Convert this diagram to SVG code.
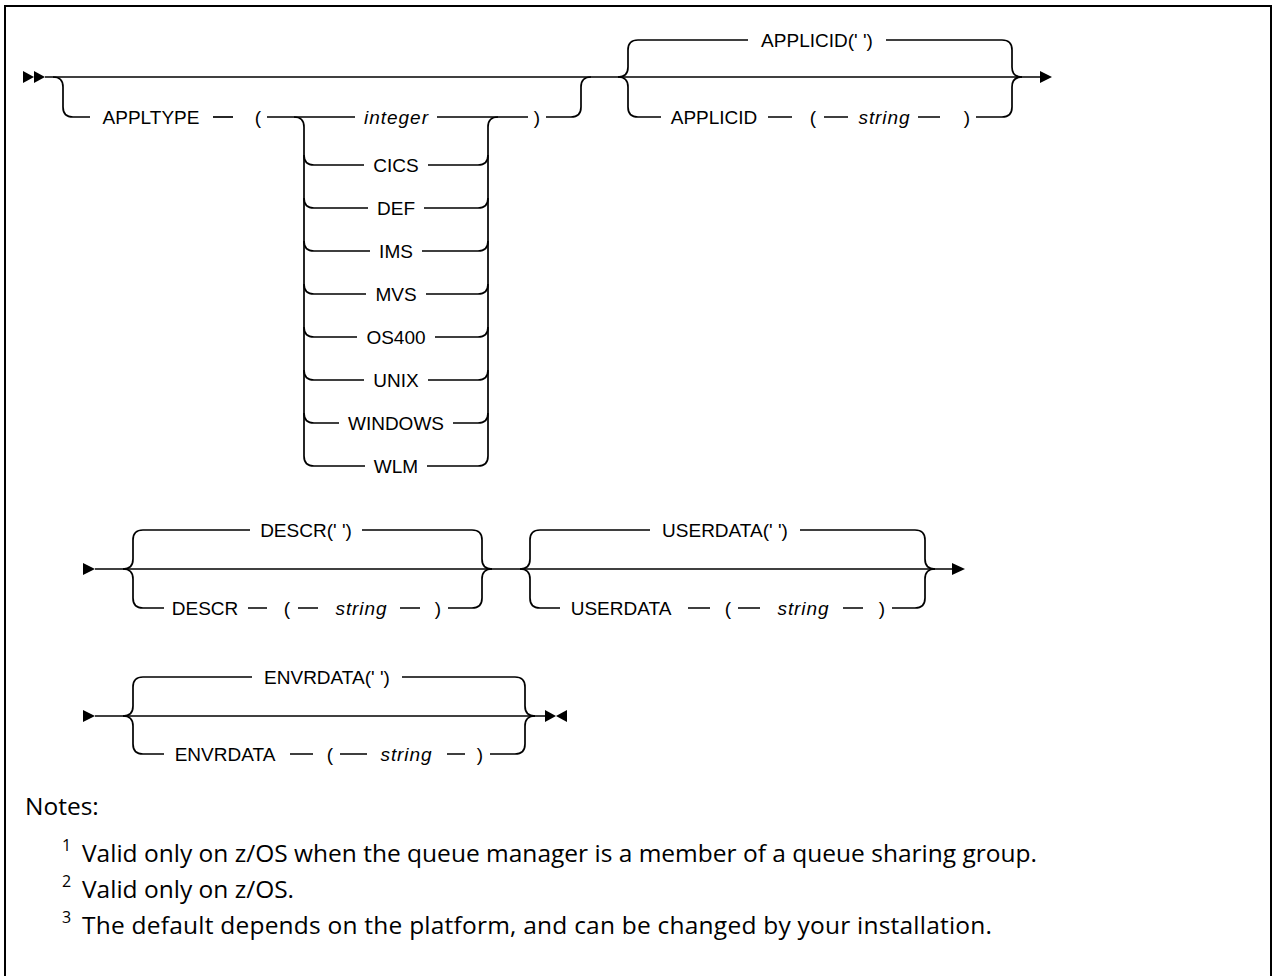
<svg xmlns="http://www.w3.org/2000/svg" width="1274" height="976" viewBox="0 0 1274 976">
<style>
.ln{fill:none;stroke:#000;stroke-width:1.7;stroke-linecap:butt}
.t{font-family:"Liberation Sans",Arial,sans-serif;font-size:19px;fill:#000;text-anchor:middle}
.i{font-style:italic}
.n{font-family:"Open Sans","Noto Sans",sans-serif;font-size:24.5px;fill:#000}
.s{font-family:"Open Sans","Noto Sans",sans-serif;font-size:16px;fill:#000}
.ar{fill:#000}
</style>
<rect width="1274" height="976" fill="#fff"/>
<path d="M5,976 V6 H1271 V976" fill="none" stroke="#000" stroke-width="2"/>

<g id="connectors">
<!-- Row 1 -->
<polygon class="ar" points="23,71 34,77 23,83"/>
<polygon class="ar" points="34,71 45,77 34,83"/>
<path class="ln" d="M45,77 H1040"/>
<polygon class="ar" points="1040,71 1052,77 1040,83"/>
<!-- optional APPLTYPE -->
<path class="ln" d="M53,77 Q63,77 63,87 V107 Q63,117 73,117 H90"/>
<path class="ln" d="M213,117 H233"/>
<path class="ln" d="M267,117 H355 M437,117 H528"/>
<path class="ln" d="M546,117 H571 Q581,117 581,107 V87 Q581,77 591,77"/>
<!-- choice verticals -->
<path class="ln" d="M294,117 Q304,117 304,127 V456 Q304,466 314,466"/>
<path class="ln" d="M498,117 Q488,117 488,127 V456 Q488,466 478,466"/>
<path class="ln" d="M304,155 Q304,165 314,165 M304,198 Q304,208 314,208 M304,241 Q304,251 314,251 M304,284 Q304,294 314,294 M304,327 Q304,337 314,337 M304,370 Q304,380 314,380 M304,413 Q304,423 314,423"/>
<path class="ln" d="M488,155 Q488,165 478,165 M488,198 Q488,208 478,208 M488,241 Q488,251 478,251 M488,284 Q488,294 478,294 M488,327 Q488,337 478,337 M488,370 Q488,380 478,380 M488,413 Q488,423 478,423"/>
<path class="ln" d="M314,165 H364 M428,165 H478"/>
<path class="ln" d="M314,208 H368 M424,208 H478"/>
<path class="ln" d="M314,251 H370 M422,251 H478"/>
<path class="ln" d="M314,294 H366 M426,294 H478"/>
<path class="ln" d="M314,337 H357 M435,337 H478"/>
<path class="ln" d="M314,380 H364 M428,380 H478"/>
<path class="ln" d="M314,423 H339 M453,423 H478"/>
<path class="ln" d="M314,466 H365 M427,466 H478"/>
<!-- APPLICID -->
<path class="ln" d="M618,77 Q628,77 628,67 V50 Q628,40 638,40 H748 M886,40 H1002 Q1012,40 1012,50 V67 Q1012,77 1022,77"/>
<path class="ln" d="M618,77 Q628,77 628,87 V107 Q628,117 638,117 H661 M768,117 H792 M824,117 H848 M918,117 H940 M976,117 H1002 Q1012,117 1012,107 V87 Q1012,77 1022,77"/>

<!-- Row 2 -->
<polygon class="ar" points="83,563 95,569 83,575"/>
<path class="ln" d="M95,569 H952"/>
<polygon class="ar" points="952,563 965,569 952,575"/>
<path class="ln" d="M123,569 Q133,569 133,559 V540 Q133,530 143,530 H250 M362,530 H472 Q482,530 482,540 V559 Q482,569 492,569"/>
<path class="ln" d="M123,569 Q133,569 133,579 V598 Q133,608 143,608 H164 M248,608 H267 M298,608 H318 M400,608 H420 M448,608 H472 Q482,608 482,598 V579 Q482,569 492,569"/>
<path class="ln" d="M520,569 Q530,569 530,559 V540 Q530,530 540,530 H650 M800,530 H915 Q925,530 925,540 V559 Q925,569 935,569"/>
<path class="ln" d="M520,569 Q530,569 530,579 V598 Q530,608 540,608 H560 M688,608 H710 M738,608 H760 M843,608 H863 M892,608 H915 Q925,608 925,598 V579 Q925,569 935,569"/>

<!-- Row 3 -->
<polygon class="ar" points="83,710 95,716 83,722"/>
<path class="ln" d="M95,716 H545"/>
<polygon class="ar" points="545,710 556,716 545,722"/>
<polygon class="ar" points="567,710 556,716 567,722"/>
<path class="ln" d="M123,716 Q133,716 133,706 V687 Q133,677 143,677 H252 M402,677 H515 Q525,677 525,687 V706 Q525,716 535,716"/>
<path class="ln" d="M123,716 Q133,716 133,726 V744 Q133,754 143,754 H164 M290,754 H313 M340,754 H367 M447,754 H465 M490,754 H515 Q525,754 525,744 V726 Q525,716 535,716"/>
</g>

<g id="appltype"><text class="t" x="151" y="124">APPLTYPE</text><text class="t" x="258" y="124">(</text><text class="t" x="537" y="124">)</text></g>
<g id="integer"><text class="t i" x="396" y="124" textLength="64" lengthAdjust="spacing">integer</text></g>
<g id="cics"><text class="t" x="396" y="172">CICS</text></g>
<g id="def"><text class="t" x="396" y="215">DEF</text></g>
<g id="ims"><text class="t" x="396" y="258">IMS</text></g>
<g id="mvs"><text class="t" x="396" y="301">MVS</text></g>
<g id="os400"><text class="t" x="396" y="344">OS400</text></g>
<g id="unix"><text class="t" x="396" y="387">UNIX</text></g>
<g id="windows"><text class="t" x="396" y="430">WINDOWS</text></g>
<g id="wlm"><text class="t" x="396" y="473">WLM</text></g>
<g id="applicid-default"><text class="t" x="817" y="47">APPLICID(' ')</text></g>
<g id="applicid"><text class="t" x="714" y="124">APPLICID</text><text class="t" x="813" y="124">(</text><text class="t i" x="884" y="124" textLength="51" lengthAdjust="spacing">string</text><text class="t" x="967" y="124">)</text></g>

<g id="descr-default"><text class="t" x="306" y="537">DESCR(' ')</text></g>
<g id="descr"><text class="t" x="205" y="615">DESCR</text><text class="t" x="287" y="615">(</text><text class="t i" x="361" y="615" textLength="51" lengthAdjust="spacing">string</text><text class="t" x="438" y="615">)</text></g>
<g id="userdata-default"><text class="t" x="725" y="537">USERDATA(' ')</text></g>
<g id="userdata"><text class="t" x="621" y="615">USERDATA</text><text class="t" x="728" y="615">(</text><text class="t i" x="803" y="615" textLength="51" lengthAdjust="spacing">string</text><text class="t" x="882" y="615">)</text></g>

<g id="envrdata-default"><text class="t" x="327" y="684">ENVRDATA(' ')</text></g>
<g id="envrdata"><text class="t" x="225" y="761">ENVRDATA</text><text class="t" x="330" y="761">(</text><text class="t i" x="406" y="761" textLength="51" lengthAdjust="spacing">string</text><text class="t" x="480" y="761">)</text></g>

<g id="notes">
<text class="n" x="25" y="815">Notes:</text>
<text class="s" x="62" y="851">1</text><text class="n" x="82" y="862" textLength="955" lengthAdjust="spacing">Valid only on z/OS when the queue manager is a member of a queue sharing group.</text>
<text class="s" x="62" y="887">2</text><text class="n" x="82" y="898">Valid only on z/OS.</text>
<text class="s" x="62" y="923">3</text><text class="n" x="82" y="934" textLength="910" lengthAdjust="spacing">The default depends on the platform, and can be changed by your installation.</text>
</g>
</svg>
